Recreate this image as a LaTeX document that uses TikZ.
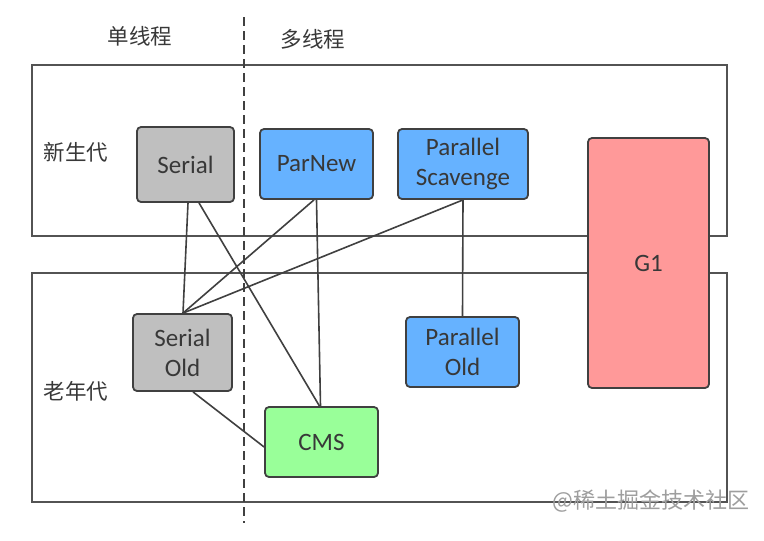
\documentclass[tikz,border=0pt]{standalone}
\usepackage{fontspec}
\setmainfont{Carlito}
\newfontfamily\cjk{Noto Sans CJK SC}
\usetikzlibrary{calc}
\definecolor{gcgray}{HTML}{BFBFBF}
\definecolor{gcblue}{HTML}{66B2FF}
\definecolor{gcred}{HTML}{FF9999}
\definecolor{gcgreen}{HTML}{99FF99}
\definecolor{edge}{HTML}{404040}
\definecolor{txt}{HTML}{383838}
\tikzset{
  gcbox/.style={draw=edge, line width=1.8pt, rounded corners=4pt, align=center,
    text=txt, font=\fontsize{25}{30}\selectfont, inner sep=0pt},
  region/.style={draw=edge!90, line width=1.5pt},
  link/.style={draw=edge, line width=1.6pt},
  cnlabel/.style={text=txt, font=\cjk\fontsize{21.5}{25}\selectfont, inner sep=0pt},
}
\begin{document}
\begin{tikzpicture}[x=1pt, y=-1pt]
\useasboundingbox (0,0) rectangle (764,541);
\fill[white] (0,0) rectangle (764,541);
% regions
\draw[region] (32,65) rectangle (727,236);
\draw[region] (32,273) rectangle (727,502);
% divider
\draw[edge, line width=1.5pt, dash pattern=on 9pt off 5pt] (244,17) -- (244,523);
% labels
\node[cnlabel] (single) at (140,36) {单线程};
\node[cnlabel] (multi) at (313,39) {多线程};
\node[cnlabel] (young) at (76,152) {新生代};
\node[cnlabel] (old) at (76,391) {老年代};
% collectors
\node[gcbox, fill=gcgray, minimum width=97pt, minimum height=75pt] (serial) at (185.5,164.5) {Serial};
\node[gcbox, fill=gcblue, minimum width=113pt, minimum height=70pt] (parnew) at (316.5,164) {ParNew};
\node[gcbox, fill=gcblue, minimum width=130pt, minimum height=70pt] (ps) at (463,164) {Parallel\\Scavenge};
\node[gcbox, fill=gcred, minimum width=121pt, minimum height=250pt] (g1) at (648.5,263) {G1};
\node[gcbox, fill=gcgray, minimum width=99pt, minimum height=77pt] (serialold) at (182.5,352.5) {Serial\\Old};
\node[gcbox, fill=gcgreen, minimum width=113pt, minimum height=70pt] (cms) at (321.5,442) {CMS};
\node[gcbox, fill=gcblue, minimum width=113pt, minimum height=70pt] (parold) at (462.5,352) {Parallel\\Old};
% connectors
\draw[link] ([xshift=2.5pt]serial.south) -- ([xshift=0.5pt]serialold.north);
\draw[link] ([xshift=13.5pt]serial.south) -- ([xshift=-2pt]cms.north);
\draw[link] ([xshift=-2.5pt]parnew.south) -- ([xshift=0.5pt]serialold.north);
\draw[link] ([xshift=0pt]parnew.south) -- ([xshift=-1pt]cms.north);
\draw[link] (ps.south) -- ([xshift=0.5pt]serialold.north);
\draw[link] (ps.south) -- (parold.north);
\draw[link] ([xshift=10.5pt]serialold.south) -- ([yshift=-5pt]cms.west);
% watermark
\node[text=black!38, font=\cjk\fontsize{22}{25}\selectfont, inner sep=0pt] (wm) at (651,501) {@稀土掘金技术社区};
\end{tikzpicture}
\end{document}
